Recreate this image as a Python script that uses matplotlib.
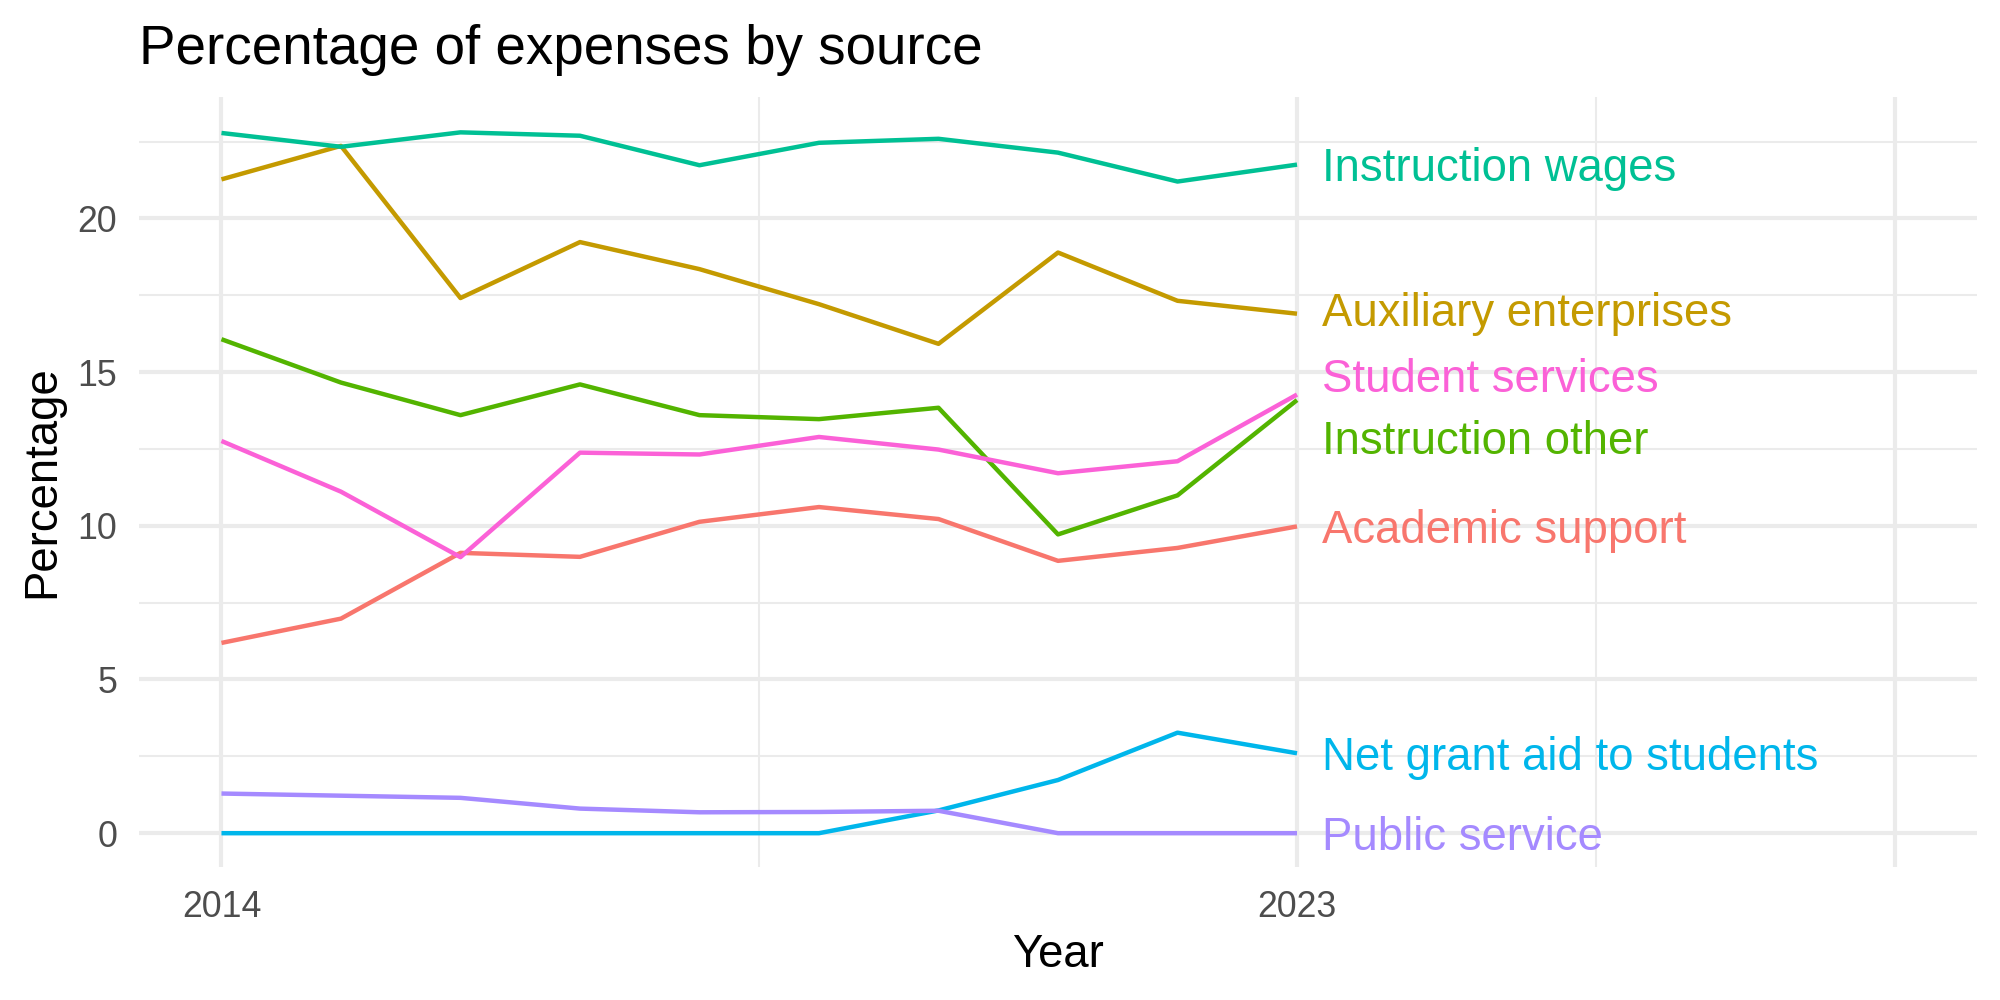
import matplotlib
matplotlib.use("Agg")
import matplotlib.pyplot as plt

# ---------------- data ----------------
years = [2014, 2015, 2016, 2017, 2018, 2019, 2020, 2021, 2022, 2023]

academic_support = [6.19, 6.98, 9.12, 8.99, 10.13, 10.61, 10.22, 8.86, 9.28, 9.98]
auxiliary_enterprises = [21.27, 22.36, 17.41, 19.23, 18.35, 17.21, 15.92, 18.89, 17.32, 16.90]
instruction_other = [16.07, 14.66, 13.60, 14.60, 13.60, 13.47, 13.84, 9.72, 10.99, 14.09]
instruction_wages = [22.78, 22.33, 22.80, 22.69, 21.73, 22.46, 22.59, 22.14, 21.20, 21.75]
net_grant_aid = [0.0, 0.0, 0.0, 0.0, 0.0, 0.0, 0.74, 1.73, 3.27, 2.60]
public_service = [1.29, 1.22, 1.15, 0.80, 0.68, 0.69, 0.73, 0.0, 0.0, 0.0]
student_services = [12.76, 11.11, 8.98, 12.38, 12.32, 12.89, 12.48, 11.71, 12.10, 14.27]

series_names = ["Academic support", "Auxiliary enterprises", "Instruction other",
                "Instruction wages", "Net grant aid to students", "Public service",
                "Student services"]
series_values = [academic_support, auxiliary_enterprises, instruction_other,
                 instruction_wages, net_grant_aid, public_service, student_services]
series_colors = ["#F8766D", "#C49A00", "#53B400", "#00C094", "#00B6EB",
                 "#A58AFF", "#FB61D7"]

x_tick_values = [2014, 2023, 2028]
x_tick_labels = ["2014", "2023", ""]
y_tick_values = [0, 5, 10, 15, 20]
y_tick_labels = ["0", "5", "10", "15", "20"]

# label repel nudges (layout only)
label_nudge = {"Student services": 0.62, "Instruction other": -1.22,
               "Auxiliary enterprises": 0.12}

# ---------------- plot ----------------
plt.rcParams["font.family"] = ["Liberation Sans", "DejaVu Sans"]

fig = plt.figure(figsize=(10, 5), dpi=200)
ax = fig.add_axes([0.0695, 0.133, 0.919, 0.770])

grid_col = "#EBEBEB"
ax.set_xlim(2013.31, 2028.69)
ax.set_ylim(-1.1, 23.95)
ax.set_xticks(x_tick_values)
ax.set_xticklabels(x_tick_labels)
ax.set_xticks([2018.5, 2025.5], minor=True)
ax.set_yticks(y_tick_values)
ax.set_yticklabels(y_tick_labels)
ax.set_yticks([2.5, 7.5, 12.5, 17.5, 22.5], minor=True)
ax.grid(which="major", color=grid_col, linewidth=1.5)
ax.grid(which="minor", color=grid_col, linewidth=0.75)
ax.set_axisbelow(True)
for s in ax.spines.values():
    s.set_visible(False)
ax.tick_params(which="both", length=0)
ax.tick_params(axis="x", which="major", pad=8.3, labelsize=12.9, labelcolor="#4D4D4D")
ax.tick_params(axis="y", which="major", pad=7.9, labelsize=12.9, labelcolor="#4D4D4D")

for name, vals, col in zip(series_names, series_values, series_colors):
    ax.plot(years, vals, color=col, linewidth=1.6, solid_capstyle="butt",
            solid_joinstyle="round", zorder=3)

for name, vals, col in zip(series_names, series_values, series_colors):
    ly = vals[-1] + label_nudge.get(name, 0.0)
    ax.annotate(name, xy=(years[-1], ly), xytext=(9, -5.9),
                textcoords="offset points", ha="left", va="baseline",
                color=col, fontsize=16.4, zorder=4, annotation_clip=False)

fig.text(139 / 2000, 0.936, "Percentage of expenses by source", fontsize=19.7,
         ha="left", va="baseline", color="black")
fig.text(0.529, 0.033, "Year", fontsize=16.4, ha="center", va="baseline", color="black")
fig.text(0.021, 0.518, "Percentage", fontsize=16.4, ha="center", va="center",
         rotation=90, color="black")

fig.savefig("out.png", dpi=200, facecolor="white")
